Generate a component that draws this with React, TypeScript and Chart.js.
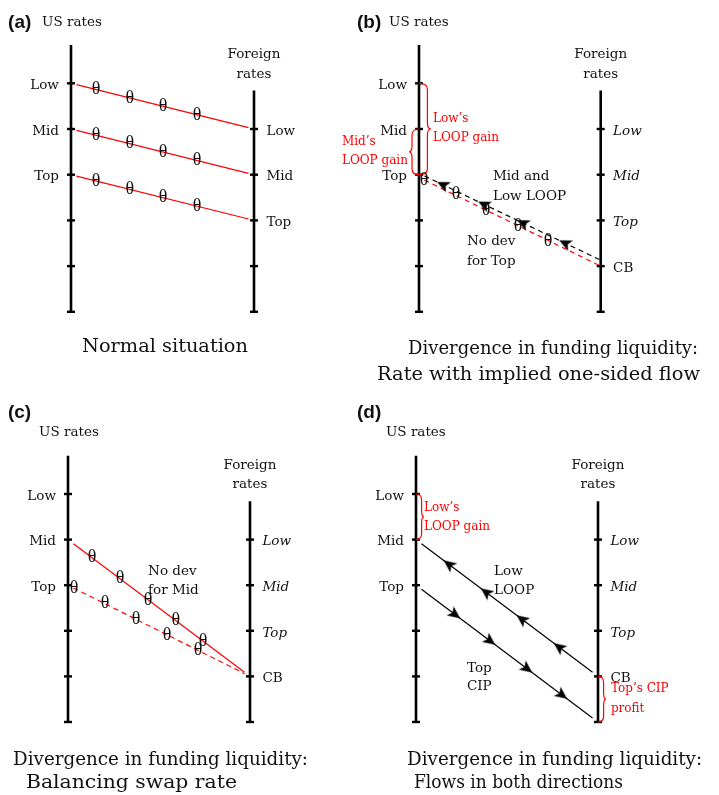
import React, { useEffect, useRef } from 'react';
import { Chart, registerables } from 'chart.js';

Chart.register(...registerables);

// ---------------- data ----------------
const US_TICK_LEVELS = [0, 1, 2, 3, 4, 5];
const FOREIGN_TICK_LEVELS = [1, 2, 3, 4, 5];
const US_AXIS_RANGE = [-0.84, 5];
const FOREIGN_AXIS_RANGE = [0.16, 5];
const US_TICK_LABELS = ['Low', 'Mid', 'Top'];
const FOREIGN_LABELS_A = ['Low', 'Mid', 'Top'];
const FOREIGN_LABELS_BCD = ['Low', 'Mid', 'Top', 'CB'];

// Panel (a): rate lines, US level -> foreign level
const A_LINE_FROM = [0, 1, 2];
const A_LINE_TO = [1, 2, 3];
const A_THETA_AT = [0.137, 0.322, 0.503, 0.689];

// Panel (b)
const B_FLOW = [1.97, 3.87]; // black dashed flow (US level -> foreign level)
const B_RATE = [2.06, 4.0]; // red dashed rate
const B_ARROW_AT = [0.132, 0.358, 0.572, 0.804];
const B_THETA_X = [0.028, 0.204, 0.369, 0.545, 0.71];
const B_THETA_Y = [2.12, 2.42, 2.77, 3.12, 3.45];

// Panel (c)
const C_MID = [1, 4];
const C_TOP = [2, 4];
const C_MID_THETA_AT = [0.132, 0.286, 0.44, 0.593, 0.742];
const C_TOP_THETA_AT = [0.033, 0.203, 0.374, 0.544, 0.714];

// Panel (d)
const D_LOOP = [1, 4];
const D_CIP = [2, 5];
const D_LOOP_ARROW_AT = [0.181, 0.385, 0.582, 0.786];
const D_CIP_ARROW_AT = [0.214, 0.407, 0.61, 0.802];

// Braces: [axis (0 US / 1 foreign), from level, to level]
const B_LOW_BRACE = [0, 0, 2];
const B_MID_BRACE = [0, 1, 2];
const D_LOW_BRACE = [0, 0, 1];
const D_TOP_BRACE = [1, 4, 5];

const CAPTION_A = ['Normal situation'];
const CAPTION_B = ['Divergence in funding liquidity:', 'Rate with implied one-sided flow'];
const CAPTION_C = ['Divergence in funding liquidity:', 'Balancing swap rate'];
const CAPTION_D = ['Divergence in funding liquidity:', 'Flows in both directions'];

// ---------------- styles ----------------
const BLACK = '#111111';
const RED = '#ff0000';
const SERIF = '"DejaVu Serif", "Liberation Serif", serif';
const THETA_FONT = '"Liberation Serif", serif';
const SANS = '"Liberation Sans", Arial, sans-serif';
const LABEL = 13.5;
const SMALL = 12;
const CAPTION = 18.5;
const THETA = 18;
const GAP = 0.03;

type Txt = {
  s: string; x: number; y: number; align?: CanvasTextAlign; size?: number;
  color?: string; italic?: boolean; bold?: boolean; family?: string; w?: number;
};
type Brace = { axis: number; from: number; to: number; amp: number };

let ARROW: HTMLCanvasElement | null = null;
function arrowImg() {
  if (!ARROW) {
    const c = document.createElement('canvas');
    c.width = 16; c.height = 16;
    const g = c.getContext('2d')!;
    g.fillStyle = '#000';
    g.beginPath();
    g.moveTo(14.5, 8); g.lineTo(2, 2.2); g.lineTo(5, 8); g.lineTo(2, 13.8);
    g.closePath(); g.fill();
    ARROW = c;
  }
  return ARROW;
}

const onLine = (ln: number[], ts: number[]) => ts.map((t) => ({ x: t, y: ln[0] + t * (ln[1] - ln[0]) }));
const seg = (ln: number[], g0 = GAP, g1 = GAP) => onLine(ln, [g0, 1 - g1]);

const axisSets = () => [
  { data: [{ x: 0, y: US_AXIS_RANGE[0] }, { x: 0, y: US_AXIS_RANGE[1] }], showLine: true, borderColor: '#000', borderWidth: 2.6, pointRadius: 0, borderCapStyle: 'butt' },
  { data: [{ x: 1, y: FOREIGN_AXIS_RANGE[0] }, { x: 1, y: FOREIGN_AXIS_RANGE[1] }], showLine: true, borderColor: '#000', borderWidth: 2.6, pointRadius: 0, borderCapStyle: 'butt' },
  { data: US_TICK_LEVELS.map((v) => ({ x: 0, y: v })), showLine: false, pointStyle: 'line', pointRadius: 4, pointBorderWidth: 2.4, pointBorderColor: '#000', borderColor: '#000' },
  { data: FOREIGN_TICK_LEVELS.map((v) => ({ x: 1, y: v })), showLine: false, pointStyle: 'line', pointRadius: 4, pointBorderWidth: 2.4, pointBorderColor: '#000', borderColor: '#000' },
];

const lineSet = (data: any[], color: string, dashed: boolean) => ({
  data, showLine: true, borderColor: color, borderWidth: 1.2, borderDash: dashed ? [5, 4] : [], pointRadius: 0,
});

const rotFn = (c: any) => {
  const ds = c.dataset;
  const xs = c.chart.scales.x, ys = c.chart.scales.y;
  const dx = xs.getPixelForValue(1) - xs.getPixelForValue(0);
  const dy = ys.getPixelForValue(ds.ln[1]) - ys.getPixelForValue(ds.ln[0]);
  const a = (Math.atan2(dy, dx) * 180) / Math.PI;
  return ds.dir < 0 ? a + 180 : a;
};

const arrowSet = (ln: number[], ts: number[], dir: number) => ({
  data: onLine(ln, ts), showLine: false, pointStyle: arrowImg(), pointRadius: 5, rotation: rotFn, ln, dir,
});

function frameTexts(letter: string, letterPos: number[], usPos: number[], foreign: string[], italic: boolean): Txt[] {
  const t: Txt[] = [
    { s: letter, x: letterPos[0], y: letterPos[1], bold: true, family: SANS, size: 19 },
    { s: 'US rates', x: usPos[0], y: usPos[1] },
    { s: 'Foreign', x: 1, y: -0.62, align: 'center' },
    { s: 'rates', x: 1, y: -0.2, align: 'center' },
  ];
  US_TICK_LABELS.forEach((s, i) => t.push({ s, x: -0.066, y: i + 0.05, align: 'right' }));
  foreign.forEach((s, i) => t.push({ s, x: 1.068, y: i + 1 + 0.05, italic: italic && s !== 'CB' }));
  return t;
}

const thetas = (pts: { x: number; y: number }[]): Txt[] =>
  pts.map((p) => ({ s: 'θ', x: p.x, y: p.y, align: 'center', family: THETA_FONT, size: THETA }));

const caption = (lines: string[], pos: number[][]): Txt[] =>
  lines.map((s, i) => ({ s, x: pos[i][0], y: pos[i][1], size: CAPTION, w: pos[i][2] }));

const brace = (b: number[], amp: number): Brace => ({ axis: b[0], from: b[1], to: b[2], amp });

type PanelCfg = {
  box: number[]; origin: number[]; unit: number[];
  datasets: () => any[]; texts: () => Txt[]; braces: Brace[];
};

const PANELS: PanelCfg[] = [
  {
    box: [0, 0, 340, 395], origin: [71, 83.3], unit: [183, 45.7],
    datasets: () => [
      ...A_LINE_FROM.map((f, i) => lineSet(seg([f, A_LINE_TO[i]]), RED, false)),
      ...axisSets(),
    ],
    texts: () => [
      ...frameTexts('(a)', [-0.344, -1.32], [-0.158, -1.32], FOREIGN_LABELS_A, false),
      ...A_LINE_FROM.flatMap((f, i) => thetas(onLine([f, A_LINE_TO[i]], A_THETA_AT))),
      ...caption(CAPTION_A, [[0.06, 5.77, 166]]),
    ],
    braces: [],
  },
  {
    box: [330, 0, 389, 395], origin: [419, 83.3], unit: [181.7, 45.7],
    datasets: () => [
      arrowSet(B_FLOW, B_ARROW_AT, -1),
      lineSet(seg(B_FLOW, GAP, 0), '#000', true),
      lineSet(seg(B_RATE, GAP, 0), RED, true),
      ...axisSets(),
    ],
    texts: () => [
      ...frameTexts('(b)', [-0.341, -1.32], [-0.165, -1.32], FOREIGN_LABELS_BCD, true),
      ...thetas(B_THETA_X.map((x, i) => ({ x, y: B_THETA_Y[i] }))),
      { s: 'Mid and', x: 0.407, y: 2.05 },
      { s: 'Low LOOP', x: 0.407, y: 2.47 },
      { s: 'No dev', x: 0.264, y: 3.47 },
      { s: 'for Top', x: 0.264, y: 3.89 },
      { s: 'Low\u2019s', x: 0.077, y: 0.78, size: SMALL, color: RED },
      { s: 'LOOP gain', x: 0.077, y: 1.2, size: SMALL, color: RED },
      { s: 'Mid\u2019s', x: -0.424, y: 1.28, size: SMALL, color: RED },
      { s: 'LOOP gain', x: -0.424, y: 1.7, size: SMALL, color: RED },
      ...caption(CAPTION_B, [[-0.06, 5.81, 290], [-0.231, 6.38, 323]]),
    ],
    braces: [brace(B_LOW_BRACE, 12), brace(B_MID_BRACE, -10)],
  },
  {
    box: [0, 395, 340, 400], origin: [68, 494], unit: [182, 45.6],
    datasets: () => [
      lineSet(seg(C_MID), RED, false),
      lineSet(seg(C_TOP), RED, true),
      ...axisSets(),
    ],
    texts: () => [
      ...frameTexts('(c)', [-0.33, -1.78], [-0.159, -1.34], FOREIGN_LABELS_BCD, true),
      ...thetas(onLine(C_MID, C_MID_THETA_AT)),
      ...thetas(onLine(C_TOP, C_TOP_THETA_AT)),
      { s: 'No dev', x: 0.44, y: 1.71 },
      { s: 'for Mid', x: 0.44, y: 2.11 },
      ...caption(CAPTION_C, [[-0.302, 5.83, 295], [-0.231, 6.34, 211]]),
    ],
    braces: [],
  },
  {
    box: [330, 395, 389, 400], origin: [416, 494], unit: [182, 45.6],
    datasets: () => [
      arrowSet(D_LOOP, D_LOOP_ARROW_AT, -1),
      arrowSet(D_CIP, D_CIP_ARROW_AT, 1),
      lineSet(seg(D_LOOP), '#000', false),
      lineSet(seg(D_CIP), '#000', false),
      ...axisSets(),
    ],
    texts: () => [
      ...frameTexts('(d)', [-0.324, -1.78], [-0.165, -1.34], FOREIGN_LABELS_BCD, true),
      { s: 'Low', x: 0.429, y: 1.71 },
      { s: 'LOOP', x: 0.429, y: 2.11 },
      { s: 'Top', x: 0.28, y: 3.82 },
      { s: 'CIP', x: 0.28, y: 4.23 },
      { s: 'Low\u2019s', x: 0.044, y: 0.31, size: SMALL, color: RED },
      { s: 'LOOP gain', x: 0.044, y: 0.72, size: SMALL, color: RED },
      { s: 'Top\u2019s CIP', x: 1.071, y: 4.28, size: SMALL, color: RED },
      { s: 'profit', x: 1.071, y: 4.71, size: SMALL, color: RED },
      ...caption(CAPTION_D, [[-0.049, 5.83, 295], [-0.011, 6.34, 209]]),
    ],
    braces: [brace(D_LOW_BRACE, 8), brace(D_TOP_BRACE, 8)],
  },
];

function drawBrace(ctx: CanvasRenderingContext2D, X: number, Y1: number, Y2: number, amp: number) {
  const arm = amp * 0.7;
  const ym = (Y1 + Y2) / 2;
  const r = Math.min(6, (Y2 - Y1) / 5);
  ctx.beginPath();
  ctx.moveTo(X, Y1);
  ctx.quadraticCurveTo(X + arm, Y1, X + arm, Y1 + r);
  ctx.lineTo(X + arm, ym - r);
  ctx.quadraticCurveTo(X + arm, ym, X + amp, ym);
  ctx.quadraticCurveTo(X + arm, ym, X + arm, ym + r);
  ctx.lineTo(X + arm, Y2 - r);
  ctx.quadraticCurveTo(X + arm, Y2, X, Y2);
  ctx.stroke();
}

const overlay = (texts: Txt[], braces: Brace[]) => ({
  id: 'overlay',
  afterDatasetsDraw(chart: any) {
    const { ctx } = chart;
    const xs = chart.scales.x, ys = chart.scales.y;
    ctx.save();
    ctx.strokeStyle = RED;
    ctx.lineWidth = 1.2;
    for (const b of braces) {
      drawBrace(ctx, xs.getPixelForValue(b.axis), ys.getPixelForValue(b.from), ys.getPixelForValue(b.to), b.amp);
    }
    ctx.textBaseline = 'middle';
    for (const t of texts) {
      ctx.font = `${t.italic ? 'italic ' : ''}${t.bold ? 'bold ' : ''}${t.size ?? LABEL}px ${t.family ?? SERIF}`;
      ctx.fillStyle = t.color ?? BLACK;
      ctx.textAlign = t.align ?? 'left';
      const X = xs.getPixelForValue(t.x), Y = ys.getPixelForValue(t.y);
      if (t.w) {
        const m = ctx.measureText(t.s).width;
        ctx.save();
        ctx.translate(X, Y);
        ctx.scale(t.w / m, 1);
        ctx.fillText(t.s, 0, 0);
        ctx.restore();
      } else {
        ctx.fillText(t.s, X, Y);
      }
    }
    ctx.restore();
  },
});

function Panel({ cfg }: { cfg: PanelCfg }) {
  const ref = useRef<HTMLCanvasElement>(null);
  const [bx, by, bw, bh] = cfg.box;
  useEffect(() => {
    const [ox, oy] = cfg.origin;
    const [ux, uy] = cfg.unit;
    const chart = new Chart(ref.current!, {
      type: 'scatter',
      data: { datasets: cfg.datasets() as any },
      options: {
        responsive: false,
        maintainAspectRatio: false,
        animation: false,
        devicePixelRatio: 1,
        events: [],
        layout: { padding: 0, autoPadding: false },
        plugins: { legend: { display: false }, tooltip: { enabled: false } },
        scales: {
          x: { type: 'linear', display: false, bounds: 'data', min: (bx - ox) / ux, max: (bx + bw - ox) / ux },
          y: { type: 'linear', display: false, bounds: 'data', reverse: true, min: (by - oy) / uy, max: (by + bh - oy) / uy },
        },
      } as any,
      plugins: [overlay(cfg.texts(), cfg.braces) as any],
    });
    return () => chart.destroy();
  }, []);
  return (
    <canvas ref={ref} width={bw} height={bh}
      style={{ position: 'absolute', left: bx, top: by, width: bw, height: bh }} />
  );
}

export default function App() {
  return (
    <div style={{ position: 'absolute', left: 0, top: 0, width: 719, height: 795, background: '#fff' }}>
      {PANELS.map((p, i) => <Panel key={i} cfg={p} />)}
    </div>
  );
}
